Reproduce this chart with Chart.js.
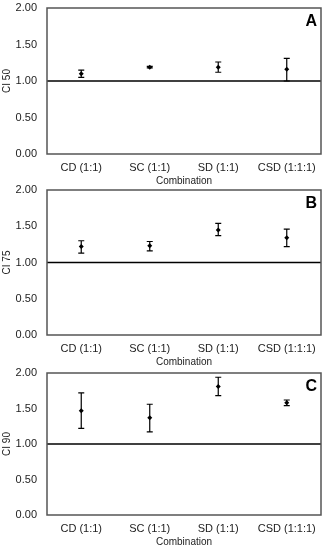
<!DOCTYPE html>
<html>
<head>
<meta charset="utf-8">
<script src="https://cdn.jsdelivr.net/npm/chart.js@4"></script>
<style>
  body { margin: 0; background: #fff; }
  .wrap { position: relative; width: 326px; height: 550px; }
  .panel { position: absolute; left: 0; width: 326px; }
</style>
</head>
<body>
<div class="wrap">
  <div class="panel" style="top:0;height:187px"><canvas id="chartA"></canvas></div>
  <div class="panel" style="top:182px;height:186px"><canvas id="chartB"></canvas></div>
  <div class="panel" style="top:365px;height:183px"><canvas id="chartC"></canvas></div>
</div>
<script>
const categories = ["CD (1:1)", "SC (1:1)", "SD (1:1)", "CSD (1:1:1)"];
const yTicks = [0, 0.5, 1, 1.5, 2];

// panel A - CI 50
const ci50 = [1.10, 1.19, 1.19, 1.16];
const ci50Low = [1.05, 1.18, 1.12, 1.00];
const ci50High = [1.15, 1.20, 1.26, 1.31];

// panel B - CI 75
const ci75 = [1.22, 1.23, 1.45, 1.34];
const ci75Low = [1.13, 1.16, 1.37, 1.22];
const ci75High = [1.30, 1.29, 1.54, 1.46];

// panel C - CI 90
const ci90 = [1.47, 1.37, 1.81, 1.58];
const ci90Low = [1.22, 1.17, 1.68, 1.54];
const ci90High = [1.72, 1.56, 1.94, 1.62];

const refLine = 1.0;

const font = "'Liberation Sans', Arial, sans-serif";

const errorBars = {
  id: 'errorBars',
  afterDatasetsDraw(chart, args, opts) {
    const ctx = chart.ctx, x = chart.scales.x, y = chart.scales.y;
    const area = chart.chartArea;
    ctx.save();
    // reference line at CI = 1
    ctx.strokeStyle = '#000';
    ctx.lineWidth = 1.3;
    ctx.beginPath();
    ctx.moveTo(area.left, y.getPixelForValue(refLine));
    ctx.lineTo(area.right, y.getPixelForValue(refLine));
    ctx.stroke();
    // whiskers
    ctx.lineWidth = 1.2;
    opts.low.forEach((lo, i) => {
      const px = x.getPixelForValue(i);
      const yl = y.getPixelForValue(lo), yh = y.getPixelForValue(opts.high[i]);
      ctx.beginPath();
      ctx.moveTo(px, yl); ctx.lineTo(px, yh);
      ctx.moveTo(px - 3, yl); ctx.lineTo(px + 3, yl);
      ctx.moveTo(px - 3, yh); ctx.lineTo(px + 3, yh);
      ctx.stroke();
    });
    ctx.restore();
  },
  afterDraw(chart, args, opts) {
    const ctx = chart.ctx, a = chart.chartArea;
    ctx.save();
    ctx.strokeStyle = '#555';
    ctx.lineWidth = 1.5;
    ctx.strokeRect(a.left, a.top, a.right - a.left, a.bottom - a.top);
    ctx.font = "bold 16px " + font;
    ctx.fillStyle = '#000';
    ctx.textAlign = 'right';
    ctx.textBaseline = 'top';
    ctx.fillText(opts.letter, a.right - 4, a.top + 6);
    ctx.restore();
  }
};

function makeChart(id, letter, title, vals, low, high) {
  new Chart(document.getElementById(id), {
    type: 'line',
    data: {
      labels: categories,
      datasets: [{
        data: vals,
        showLine: false,
        pointStyle: 'rectRot',
        pointRadius: 2.5,
        backgroundColor: '#000',
        borderColor: '#000',
        borderWidth: 0
      }]
    },
    plugins: [errorBars],
    options: {
      responsive: true,
      maintainAspectRatio: false,
      animation: false,
      layout: { padding: { top: 8, right: 5, bottom: 0, left: 0 } },
      plugins: {
        legend: { display: false },
        tooltip: { enabled: false },
        errorBars: { letter: letter, low: low, high: high }
      },
      scales: {
        x: {
          offset: true,
          afterFit: s => { s.height = 33; },
          grid: { display: false, drawTicks: false },
          border: { display: false },
          ticks: { color: '#222', font: { family: font, size: 11 }, padding: 7, maxRotation: 0 },
          title: { display: true, text: 'Combination', color: '#222', font: { family: font, size: 10 }, padding: { top: 1, bottom: 0 } }
        },
        y: {
          min: 0, max: 2,
          afterBuildTicks: s => { s.ticks = yTicks.map(v => ({ value: v })); },
          afterFit: s => { s.width = 47; s.paddingTop = 0; s.paddingBottom = 0; },
          grid: { display: false, drawTicks: false },
          border: { display: false },
          ticks: { color: '#222', font: { family: font, size: 11 }, padding: 10, callback: v => Number(v).toFixed(2) },
          title: { display: true, text: title, color: '#222', font: { family: font, size: 10 }, padding: { top: 1, bottom: 0 } }
        }
      }
    }
  });
}

makeChart('chartA', 'A', 'CI 50', ci50, ci50Low, ci50High);
makeChart('chartB', 'B', 'CI 75', ci75, ci75Low, ci75High);
makeChart('chartC', 'C', 'CI 90', ci90, ci90Low, ci90High);
</script>
</body>
</html>
